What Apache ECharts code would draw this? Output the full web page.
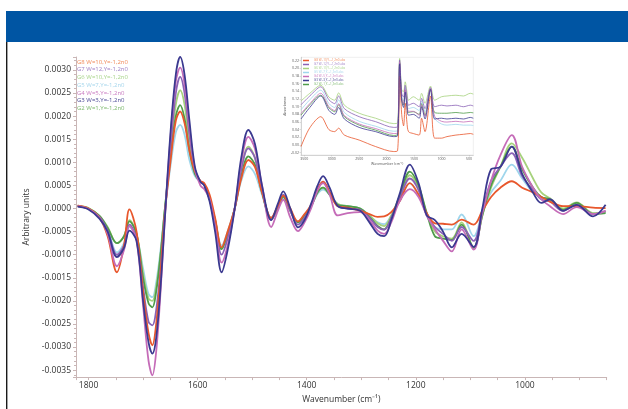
<!DOCTYPE html>
<html><head><meta charset="utf-8">
<script src="https://cdn.jsdelivr.net/npm/echarts@6.0.0/dist/echarts.min.js"></script>
<style>html,body{margin:0;padding:0;background:#fff}#c{width:628px;height:409px}</style>
</head><body><div id="c"></div>
<script>
// ---- main chart: second-derivative spectra ----
const wavenumbers = [1820,1800,1780,1765,1748,1735,1725,1712,1700,1690,1683,1676,1668,1660,1650,1640,1632,1624,1615,1605,1595,1588,1578,1568,1556,1545,1532,1520,1507,1495,1482,1465,1453,1443,1430,1416,1404,1392,1380,1370,1358,1343,1325,1302,1285,1270,1258,1245,1230,1211,1195,1180,1165,1150,1134,1116,1094,1078,1062,1045,1024,1005,985,970,954,930,905,875,852];

const seriesNames = ['G8 W=10,Y=-1,2n0','G7 W=12,Y=-1,2n0','G6 W=10,Y=-1,2n0','G5 W=7,Y=-1,2n0','G4 W=5,Y=-1,2n0','G3 W=3,Y=-1,2n0','G2 W=1,Y=-1,2n0'];

const g8 = [0.6e-4,0,-2.0e-4,-6.0e-4,-13.8e-4,-8.0e-4,-0.2e-4,-5.0e-4,-18e-4,-27e-4,-29.6e-4,-25e-4,-14e-4,-1e-4,10e-4,19e-4,21.0e-4,18.5e-4,12.5e-4,8e-4,6e-4,5.5e-4,3e-4,-2e-4,-8.4e-4,-5e-4,0,6.5e-4,10.5e-4,9e-4,3.5e-4,-2e-4,0.5e-4,2.8e-4,0,-2.8e-4,-1.2e-4,0.8e-4,4.2e-4,5.8e-4,3.5e-4,0.5e-4,0.2e-4,-0.5e-4,-1.2e-4,-1.8e-4,-1.7e-4,-0.8e-4,1.5e-4,5.5e-4,3e-4,-1e-4,-3.2e-4,-3.3e-4,-3.5e-4,-2.4e-4,-3.5e-4,-0.5e-4,2.5e-4,4.5e-4,5.9e-4,4.5e-4,3.5e-4,2.5e-4,1.5e-4,0.5e-4,0.5e-4,0.2e-4,0.1e-4];
const g7 = [0.5e-4,-0.1e-4,-1.8e-4,-4.8e-4,-10.0e-4,-8.0e-4,-3.5e-4,-6.5e-4,-17e-4,-24.5e-4,-25.3e-4,-22e-4,-13e-4,-1e-4,13e-4,25e-4,28.5e-4,25e-4,16e-4,8.5e-4,5.8e-4,5.2e-4,2e-4,-3.5e-4,-10e-4,-6.5e-4,0,8.5e-4,13e-4,11e-4,4e-4,-2.5e-4,0.5e-4,3e-4,-0.5e-4,-3.5e-4,-2e-4,0.5e-4,4.2e-4,5.8e-4,3.5e-4,0.5e-4,0,-0.3e-4,-2e-4,-4e-4,-4.6e-4,-2e-4,2e-4,6.5e-4,4e-4,-1.5e-4,-4e-4,-5.5e-4,-7e-4,-4e-4,-7e-4,-0.5e-4,6e-4,9e-4,12e-4,7e-4,4e-4,2e-4,1.5e-4,-0.5e-4,0.8e-4,-1.2e-4,-0.5e-4];
const g6 = [0.6e-4,0.1e-4,-1.6e-4,-4.0e-4,-7.5e-4,-6.0e-4,-2.5e-4,-5.5e-4,-14e-4,-19.5e-4,-20.0e-4,-17e-4,-10e-4,0,12e-4,22.5e-4,25.6e-4,22.5e-4,14e-4,8e-4,5.8e-4,5.2e-4,2e-4,-2.5e-4,-8.8e-4,-5.5e-4,0,8.5e-4,13.4e-4,11e-4,4e-4,-2.2e-4,0.5e-4,2.6e-4,-0.5e-4,-3e-4,-1.5e-4,0.5e-4,3.5e-4,4.5e-4,3e-4,1e-4,0.5e-4,0,-1.5e-4,-3.2e-4,-3.8e-4,-1.5e-4,2.5e-4,7.2e-4,4.5e-4,-1e-4,-5e-4,-6e-4,-6.5e-4,-3e-4,-8.5e-4,-1.5e-4,4.5e-4,9e-4,14.1e-4,11e-4,6.5e-4,3.5e-4,2.2e-4,0,1.3e-4,-1.0e-4,-0.8e-4];
const g5 = [0.5e-4,0,-1.8e-4,-4.5e-4,-9.5e-4,-7.5e-4,-4.0e-4,-6.0e-4,-13e-4,-18.5e-4,-19.2e-4,-16e-4,-9e-4,0,9e-4,16.5e-4,18.1e-4,16e-4,10.5e-4,7e-4,5.8e-4,5.2e-4,2e-4,-2.5e-4,-8.0e-4,-5e-4,0,6e-4,9.1e-4,7.5e-4,3e-4,-2e-4,0,2.3e-4,-0.5e-4,-2.8e-4,-1.5e-4,0.5e-4,3.2e-4,4.1e-4,3e-4,1e-4,0.5e-4,0,-1.5e-4,-3e-4,-3.4e-4,-1.5e-4,1.5e-4,5.5e-4,3e-4,-1e-4,-4e-4,-4.5e-4,-4.5e-4,-1.3e-4,-6.0e-4,-1e-4,3.5e-4,6e-4,9.5e-4,6.5e-4,3.5e-4,2.5e-4,1.8e-4,-0.2e-4,1.0e-4,-1.0e-4,-0.8e-4];
const g4 = [0.5e-4,-0.1e-4,-2.0e-4,-5.5e-4,-12.5e-4,-9.0e-4,-3.8e-4,-7.0e-4,-21e-4,-33e-4,-36.1e-4,-31e-4,-18e-4,-2e-4,15e-4,27.5e-4,30.5e-4,27e-4,17.5e-4,8.5e-4,5.0e-4,4.2e-4,2.0e-4,-4e-4,-11.7e-4,-8e-4,0,10e-4,15.5e-4,13e-4,5e-4,-4e-4,-0.5e-4,1.9e-4,-2e-4,-4.9e-4,-3e-4,0,4e-4,5.5e-4,3e-4,-1.5e-4,-1e-4,-0.8e-4,-2.5e-4,-4.8e-4,-5.5e-4,-3e-4,1.5e-4,4.2e-4,2.5e-4,-1.5e-4,-4.5e-4,-7e-4,-9.3e-4,-4.5e-4,-8.9e-4,-1e-4,6e-4,11.5e-4,15.9e-4,9e-4,4.5e-4,2e-4,0.5e-4,-1.2e-4,0.3e-4,-1.2e-4,-0.5e-4];
const g3 = [0.4e-4,-0.2e-4,-2.2e-4,-5.0e-4,-10.5e-4,-8.5e-4,-4.8e-4,-7.0e-4,-20e-4,-29e-4,-31.4e-4,-28e-4,-17e-4,-2e-4,16e-4,29e-4,32.8e-4,29e-4,19e-4,9e-4,5.8e-4,5.0e-4,1.5e-4,-5e-4,-13.8e-4,-9e-4,0,11e-4,17.0e-4,14e-4,5e-4,-2.5e-4,1e-4,3.7e-4,0,-4.1e-4,-2.5e-4,1e-4,5e-4,7.0e-4,4.5e-4,0.5e-4,0,-0.5e-4,-3e-4,-5.5e-4,-6.0e-4,-2.5e-4,3e-4,9.5e-4,5.5e-4,-1.5e-4,-2.5e-4,-5e-4,-8.4e-4,-5.5e-4,-8.3e-4,0,8.5e-4,9e-4,13.4e-4,7.5e-4,3.4e-4,1.2e-4,2.0e-4,-0.5e-4,0.8e-4,-1.7e-4,0.8e-4];
const g2 = [0.5e-4,0,-1.6e-4,-4.2e-4,-7.5e-4,-6.0e-4,-2.8e-4,-5.5e-4,-15e-4,-20.5e-4,-21.4e-4,-18e-4,-10e-4,0,11e-4,20e-4,22.4e-4,19.5e-4,12.5e-4,7.5e-4,5.8e-4,5.2e-4,2e-4,-2.5e-4,-8.8e-4,-5.5e-4,0,7e-4,11.3e-4,9.5e-4,3.5e-4,-2.4e-4,0,2.6e-4,-0.5e-4,-3e-4,-1.5e-4,0.5e-4,3.5e-4,4.5e-4,3e-4,0.8e-4,0.5e-4,0,-1.8e-4,-3.8e-4,-4.5e-4,-2e-4,2.5e-4,8.0e-4,5e-4,-1e-4,-6e-4,-6.5e-4,-6.8e-4,-3.5e-4,-8.5e-4,-1.5e-4,5e-4,9e-4,13.4e-4,8.5e-4,4.5e-4,2.5e-4,2e-4,-0.3e-4,1.2e-4,-1.2e-4,-1.0e-4];

// ---- inset: absorbance spectra ----
const insetWavenumbers = [3560,3400,3200,3050,2945,2875,2770,2500,2200,1870,1800,1762,1725,1690,1661,1630,1601,1512,1406,1363,1300,1200,1125,1000,900,737,600,474,420];
const insetNames = ['G8 W=10,Y=-1,2n0 abs','G7 W=12,Y=-1,2n0 abs','G6 W=10,Y=-1,2n0 abs','G5 W=7,Y=-1,2n0 abs','G4 W=5,Y=-1,2n0 abs','G3 W=3,Y=-1,2n0 abs','G2 W=1,Y=-1,2n0 abs'];
const a8 = [-0.004,0.045,0.074,0.040,0.035,0.044,0.026,0.013,-0.004,-0.017,-0.015,0.180,0.080,0.050,0.109,0.060,0.035,0.030,0.026,0.070,0.035,0.128,0.018,0.018,0.022,0.026,0.028,0.030,0.028];
const a7 = [0.105,0.128,0.152,0.118,0.108,0.128,0.095,0.074,0.061,0.046,0.048,0.222,0.135,0.125,0.156,0.128,0.104,0.109,0.100,0.122,0.095,0.150,0.100,0.104,0.102,0.104,0.100,0.104,0.102];
const a6 = [0.115,0.135,0.156,0.125,0.117,0.136,0.104,0.083,0.070,0.056,0.058,0.226,0.143,0.140,0.165,0.140,0.117,0.126,0.117,0.135,0.109,0.154,0.117,0.126,0.128,0.130,0.128,0.135,0.133];
const a5 = [0.092,0.118,0.143,0.108,0.098,0.118,0.085,0.062,0.049,0.036,0.038,0.218,0.128,0.115,0.150,0.118,0.095,0.098,0.090,0.115,0.087,0.148,0.070,0.055,0.052,0.054,0.052,0.052,0.051];
const a4 = [0.082,0.108,0.135,0.100,0.090,0.108,0.077,0.055,0.043,0.030,0.032,0.216,0.122,0.108,0.145,0.110,0.088,0.088,0.078,0.105,0.075,0.147,0.075,0.062,0.060,0.062,0.060,0.062,0.060];
const a3 = [0.068,0.098,0.128,0.090,0.080,0.098,0.068,0.046,0.035,0.022,0.024,0.212,0.115,0.098,0.138,0.100,0.078,0.080,0.070,0.100,0.068,0.145,0.068,0.070,0.068,0.070,0.068,0.072,0.070];
const a2 = [0.078,0.105,0.130,0.097,0.087,0.105,0.074,0.052,0.039,0.025,0.028,0.214,0.120,0.105,0.143,0.108,0.085,0.087,0.080,0.108,0.078,0.146,0.085,0.083,0.083,0.085,0.083,0.085,0.084];

const lineColors = ['#e8572c','#8a62b6','#a6d27c','#9fd6ec','#c56cb8','#3b3990','#4f9c4a'];
const legendColors = ['#f08a5a','#9d7cc4','#a8d48a','#a6d6ec','#c97ac0','#4a4895','#7cb86c'];
const mainData = [g8,g7,g6,g5,g4,g3,g2];
const insetData = [a8,a7,a6,a5,a4,a3,a2];
const drawOrder = [3,2,6,1,0,4,5];
const FONT = 'Open Sans';

const series = [];
drawOrder.forEach(i => {
  series.push({
    name: seriesNames[i], type: 'line', xAxisIndex: 0, yAxisIndex: 0,
    data: wavenumbers.map((w, k) => [w, mainData[i][k]]),
    smooth: 0.35, showSymbol: false, symbol: 'none',
    lineStyle: {color: lineColors[i], width: 1.8}, itemStyle: {color: lineColors[i]}
  });
});
drawOrder.forEach(i => {
  series.push({
    name: insetNames[i], type: 'line', xAxisIndex: 1, yAxisIndex: 1,
    data: insetWavenumbers.map((w, k) => [w, insetData[i][k]]),
    smooth: 0.3, showSymbol: false, symbol: 'none',
    lineStyle: {color: lineColors[i], width: 0.8}, itemStyle: {color: lineColors[i]}
  });
});

const isMult = (v, s) => Math.abs(v / s - Math.round(v / s)) < 1e-6;
const axisCol = '#c9b6b6';

const option = {
  animation: false,
  backgroundColor: '#ffffff',
  graphic: [
    {type: 'rect', shape: {x: 6, y: 11, width: 622, height: 31}, style: {fill: '#0055a3'}},
    {type: 'rect', shape: {x: 6, y: 42, width: 1.4, height: 367}, style: {fill: '#1a1a1a'}}
  ],
  legend: [
    {
      data: seriesNames.map((n, i) => ({name: n, icon: 'none', textStyle: {color: legendColors[i]}})),
      orient: 'vertical', left: 72, top: 59, itemWidth: 0, itemHeight: 6, itemGap: 1.7, padding: 0,
      selectedMode: false, textStyle: {fontSize: 6, lineHeight: 6, fontFamily: FONT}
    },
    {
      data: insetNames.map((n, i) => ({name: n, textStyle: {color: legendColors[i]}})),
      orient: 'vertical', left: 303, top: 59, itemWidth: 6, itemHeight: 1.5, itemGap: 1, padding: 0,
      icon: 'rect', selectedMode: false, textStyle: {fontSize: 3, lineHeight: 1.6, fontFamily: FONT}
    }
  ],
  grid: [
    {left: 76, right: 21.3, top: 57, bottom: 30.7},
    {left: 301, right: 154.7, top: 57.3, bottom: 254, show: true, backgroundColor: '#ffffff', borderColor: '#e2e2e2', borderWidth: 0.6}
  ],
  xAxis: [
    {
      gridIndex: 0, type: 'value', inverse: true, min: 850, max: 1823, interval: 50,
      name: 'Wavenumber (cm⁻¹)', nameLocation: 'middle', nameGap: 17,
      nameTextStyle: {fontSize: 8.5, color: '#333', fontFamily: FONT},
      axisLine: {show: true, onZero: false, lineStyle: {color: axisCol, width: 1}},
      axisTick: {show: true, length: 3, lineStyle: {color: axisCol}},
      axisLabel: {fontSize: 8.5, color: '#333', margin: 4, fontFamily: FONT,
        formatter: v => (v % 200 === 0 ? String(v) : '')},
      splitLine: {show: false}
    },
    {
      gridIndex: 1, type: 'value', inverse: true, min: 420, max: 3560,
      splitNumber: 6, minInterval: 500, maxInterval: 500,
      name: 'Wavenumber (cm⁻¹)', nameLocation: 'middle', nameGap: 6,
      nameTextStyle: {fontSize: 3.5, color: '#555', fontFamily: FONT},
      axisLine: {show: true, onZero: false, lineStyle: {color: '#bbb', width: 0.6}},
      axisTick: {show: true, length: 1.5, lineStyle: {color: '#bbb', width: 0.5}},
      axisLabel: {fontSize: 3.5, color: '#555', margin: 2, fontFamily: FONT, showMinLabel: false, showMaxLabel: false,
        formatter: v => (isMult(v, 500) ? String(Math.round(v)) : '')},
      splitLine: {show: false}
    }
  ],
  yAxis: [
    {
      gridIndex: 0, type: 'value', min: -0.00365, max: 0.00328,
      splitNumber: 14, minInterval: 0.0005, maxInterval: 0.0005,
      name: 'Arbitrary units', nameLocation: 'middle', nameGap: 44, nameRotate: 90,
      nameTextStyle: {fontSize: 8.5, color: '#333', fontFamily: FONT},
      axisLine: {show: true, onZero: false, lineStyle: {color: axisCol, width: 1}},
      axisTick: {show: true, length: 3, lineStyle: {color: axisCol}},
      minorTick: {show: true, splitNumber: 5, length: 2, lineStyle: {color: axisCol}},
      axisLabel: {fontSize: 8.5, color: '#333', margin: 5, fontFamily: FONT, showMinLabel: false, showMaxLabel: false,
        formatter: v => (isMult(v, 0.0005) ? v.toFixed(4) : '')},
      splitLine: {show: false}
    },
    {
      gridIndex: 1, type: 'value', min: -0.026, max: 0.229,
      splitNumber: 12, minInterval: 0.02, maxInterval: 0.02,
      name: 'Absorbance', nameLocation: 'middle', nameGap: 12, nameRotate: 90,
      nameTextStyle: {fontSize: 3.5, color: '#555', fontFamily: FONT},
      axisLine: {show: true, onZero: false, lineStyle: {color: '#bbb', width: 0.6}},
      axisTick: {show: true, length: 1.5, lineStyle: {color: '#bbb', width: 0.5}},
      axisLabel: {fontSize: 3.5, color: '#555', margin: 2, fontFamily: FONT, showMinLabel: false, showMaxLabel: false,
        formatter: v => (isMult(v, 0.02) ? v.toFixed(2) : '')},
      splitLine: {show: false}
    }
  ],
  series: series
};

const chart = echarts.init(document.getElementById('c'), null, {renderer: 'canvas'});
chart.setOption(option);
</script>
</body></html>
